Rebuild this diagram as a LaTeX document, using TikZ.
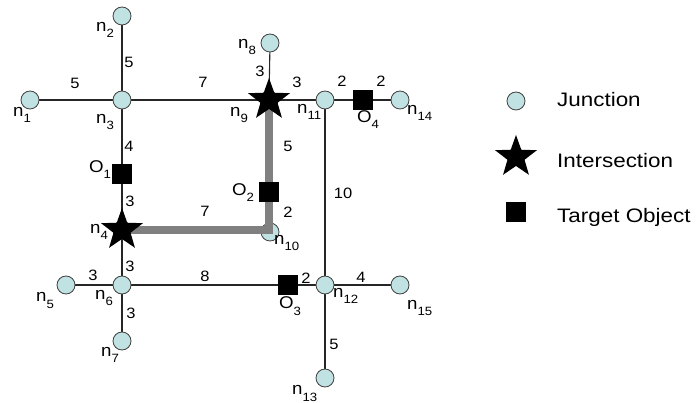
\documentclass[tikz,border=0pt]{standalone}
\usepackage{fontspec}
\setmainfont{Liberation Sans}
\newfontfamily\labfont[FakeStretch=1.1]{Liberation Sans}
\newfontfamily\legfont[FakeStretch=1.15]{Liberation Sans}
\usetikzlibrary{shapes.geometric}
\pgfdeclarelayer{bg}\pgfdeclarelayer{fg}\pgfsetlayers{bg,main,fg}
\definecolor{jcol}{RGB}{192,226,226}
\newcommand\nl[2]{#1\raisebox{-6pt}{\fontsize{12}{12}\selectfont #2}}
\begin{document}
\begin{tikzpicture}[x=1pt,y=-1pt,
 junction/.style={circle,draw=black!75,fill=jcol,minimum size=18pt,inner sep=0,line width=0.8pt},
 inters/.style={star,star points=5,star point ratio=2.45,fill=black,minimum size=44pt,inner sep=0},
 target/.style={rectangle,fill=black,minimum size=20pt,inner sep=0},
 road/.style={black!85,line width=1.1pt},
 route/.style={draw=black!50,line width=8.5pt},
 wt/.style={font=\labfont\fontsize{15}{15}\selectfont,inner sep=0},
 nlab/.style={font=\labfont\fontsize{17}{17}\selectfont,inner sep=0,anchor=base west},
 leg/.style={font=\legfont\fontsize{19.5}{20}\selectfont,inner sep=0,anchor=base west}]
\path[use as bounding box] (0,0) rectangle (699,403);
% junctions
\node[junction] (n1) at (30,100) {};
\node[junction] (n2) at (122,16) {};
\node[junction] (n3) at (122,100) {};
\node[junction] (n4) at (122,230) {};
\node[junction] (n5) at (66,285) {};
\node[junction] (n6) at (122,285) {};
\node[junction] (n7) at (122,341) {};
\node[junction] (n8) at (270,43) {};
\node[junction] (n9) at (269,100) {};
\node[junction] (n10) at (270,232) {};
\node[junction] (n11) at (325,100) {};
\node[junction] (n12) at (325,285) {};
\node[junction] (n13) at (325,378) {};
\node[junction] (n14) at (400,100) {};
\node[junction] (n15) at (400,285) {};
\coordinate (c10) at (269,230);
% targets and intersections
\begin{pgfonlayer}{fg}
\node[inters] (s9) at (n9) {};
\node[inters] (s4) at (n4) {};
\node[target] (o1) at (122,174) {};
\node[target] (o2) at (269,192) {};
\node[target] (o3) at (288,285) {};
\node[target] (o4) at (363,100) {};
\end{pgfonlayer}
% roads
\begin{pgfonlayer}{bg}
\draw[road] (n1.center) -- (n3.center) -- (n9.center) -- (n11.center) -- (o4) -- (n14.center);
\draw[road] (n2.center) -- (n3.center) -- (o1) -- (n4.center) -- (n6.center) -- (n7.center);
\draw[road] (n5.center) -- (n6.center) -- (o3) -- (n12.center) -- (n15.center);
\draw[road] (n8.center) -- (n9.center);
\draw[road] (n11.center) -- (n12.center) -- (n13.center);
\end{pgfonlayer}
% route
\draw[route] (n4.center) -- (c10) -- (n9.center);
% weights
\node[wt] (w1) at (75,83) {5};
\node[wt] (w2) at (129,62) {5};
\node[wt] (w3) at (203,82) {7};
\node[wt] (w4) at (260,71) {3};
\node[wt] (w5) at (297,82) {3};
\node[wt] (w6) at (342,81) {2};
\node[wt] (w7) at (381,81) {2};
\node[wt] (w8) at (129,146) {4};
\node[wt] (w9) at (130,201) {3};
\node[wt] (w10) at (205,211) {7};
\node[wt] (w11) at (288,146) {5};
\node[wt] (w12) at (288,212) {2};
\node[wt] (w13) at (343,193) {10};
\node[wt] (w14) at (130,266) {3};
\node[wt] (w15) at (93,275) {3};
\node[wt] (w16) at (205,276) {8};
\node[wt] (w17) at (131,313) {3};
\node[wt] (w18) at (306,278) {2};
\node[wt] (w19) at (361,277) {4};
\node[wt] (w20) at (334,344) {5};
% node labels
\node[nlab] (l1) at (13,117) {\nl{n}{1}};
\node[nlab] (l2) at (96,32) {\nl{n}{2}};
\node[nlab] (l3) at (96,124) {\nl{n}{3}};
\node[nlab] (l4) at (90,234) {\nl{n}{4}};
\node[nlab] (l5) at (36,302) {\nl{n}{5}};
\node[nlab] (l6) at (95,300) {\nl{n}{6}};
\node[nlab] (l7) at (101,356) {\nl{n}{7}};
\node[nlab] (l8) at (238,49) {\nl{n}{8}};
\node[nlab] (l9) at (230,117) {\nl{n}{9}};
\node[nlab] (l10) at (274,245) {\nl{n}{10}};
\node[nlab] (l11) at (297,114) {\nl{n}{11}};
\node[nlab] (l12) at (333,298) {\nl{n}{12}};
\node[nlab] (l13) at (292,395) {\nl{n}{13}};
\node[nlab] (l14) at (407,115) {\nl{n}{14}};
\node[nlab] (l15) at (407,310) {\nl{n}{15}};
\node[nlab] (lo1) at (89,173) {\nl{O}{1}};
\node[nlab] (lo2) at (232,196) {\nl{O}{2}};
\node[nlab] (lo3) at (279,309) {\nl{O}{3}};
\node[nlab] (lo4) at (357,123) {\nl{O}{4}};
% legend
\node[junction] (kj) at (516,101) {};
\node[inters] (ki) at (516,157) {};
\node[target] (kt) at (516,212) {};
\node[leg] (tj) at (557,107) {Junction};
\node[leg] (ti) at (557,168) {Intersection};
\node[leg] (tt) at (557,223) {Target Object};
\end{tikzpicture}
\end{document}
